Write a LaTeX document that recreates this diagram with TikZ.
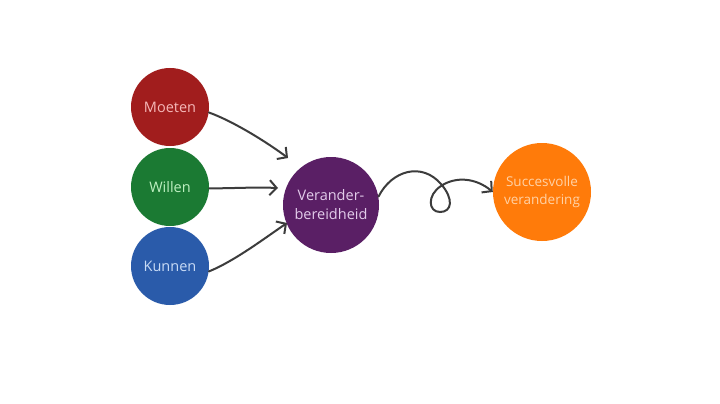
\documentclass[tikz,border=0pt]{standalone}
\usepackage{fontspec}
\setmainfont{Open Sans}
\usetikzlibrary{arrows.meta}
\definecolor{mred}{HTML}{A11D1D}
\definecolor{mredt}{HTML}{F5B8B8}
\definecolor{mgreen}{HTML}{1B7A33}
\definecolor{mgreent}{HTML}{BDEFC0}
\definecolor{mblue}{HTML}{2A5BAA}
\definecolor{mbluet}{HTML}{C8DBF5}
\definecolor{mpurple}{HTML}{5A1F65}
\definecolor{mpurplet}{HTML}{E2CCEA}
\definecolor{morange}{HTML}{FF7B0A}
\definecolor{moranget}{HTML}{FFD2A6}
\definecolor{arrowgray}{HTML}{3C3C3C}
\begin{document}
\begin{tikzpicture}[x=1pt,y=-1pt,
  circ/.style={circle, inner sep=0pt, align=center, font=\fontsize{14.5}{19}\selectfont},
  arr/.style={draw=arrowgray, line width=2pt, line cap=round,
    -{Straight Barb[length=7pt,width=15pt,line width=2pt]}}]
\useasboundingbox (0,0) rectangle (720,404);
\fill[white] (0,0) rectangle (720,404);
\node[circ, fill=mred, text=mredt, minimum size=78pt] (m) at (170,107) {Moeten};
\node[circ, fill=mgreen, text=mgreent, minimum size=78pt] (w) at (170,187) {Willen};
\node[circ, fill=mblue, text=mbluet, minimum size=78pt] (k) at (170,266) {Kunnen};
\node[circ, fill=mpurple, text=mpurplet, minimum size=96pt] (v) at (331,205) {Verander-\\bereidheid};
\node[circ, fill=morange, text=moranget, minimum size=98pt, font=\fontsize{13.5}{18}\selectfont] (s) at (542,192) {Succesvolle\\verandering};
\coordinate (tm) at (288,158);
\coordinate (tw) at (278,188);
\coordinate (tk) at (287,223);
\draw[arr] (m.-8) .. controls +(25,9) and +(-20,-15) .. (tm);
\draw[arr] (w.-2) .. controls +(25,0) and +(-25,-1) .. (tw);
\draw[arr] (k.-8) .. controls +(25,-10) and +(-22,15) .. (tk);
\draw[arr] (v.10) .. controls (392,170) and (422,162) .. (441,184)
  .. controls (454,199) and (452,212) .. (440,212)
  .. controls (428,212) and (427,195) .. (441,186)
  .. controls (456,176) and (476,178) .. (s.west);
\end{tikzpicture}
\end{document}
